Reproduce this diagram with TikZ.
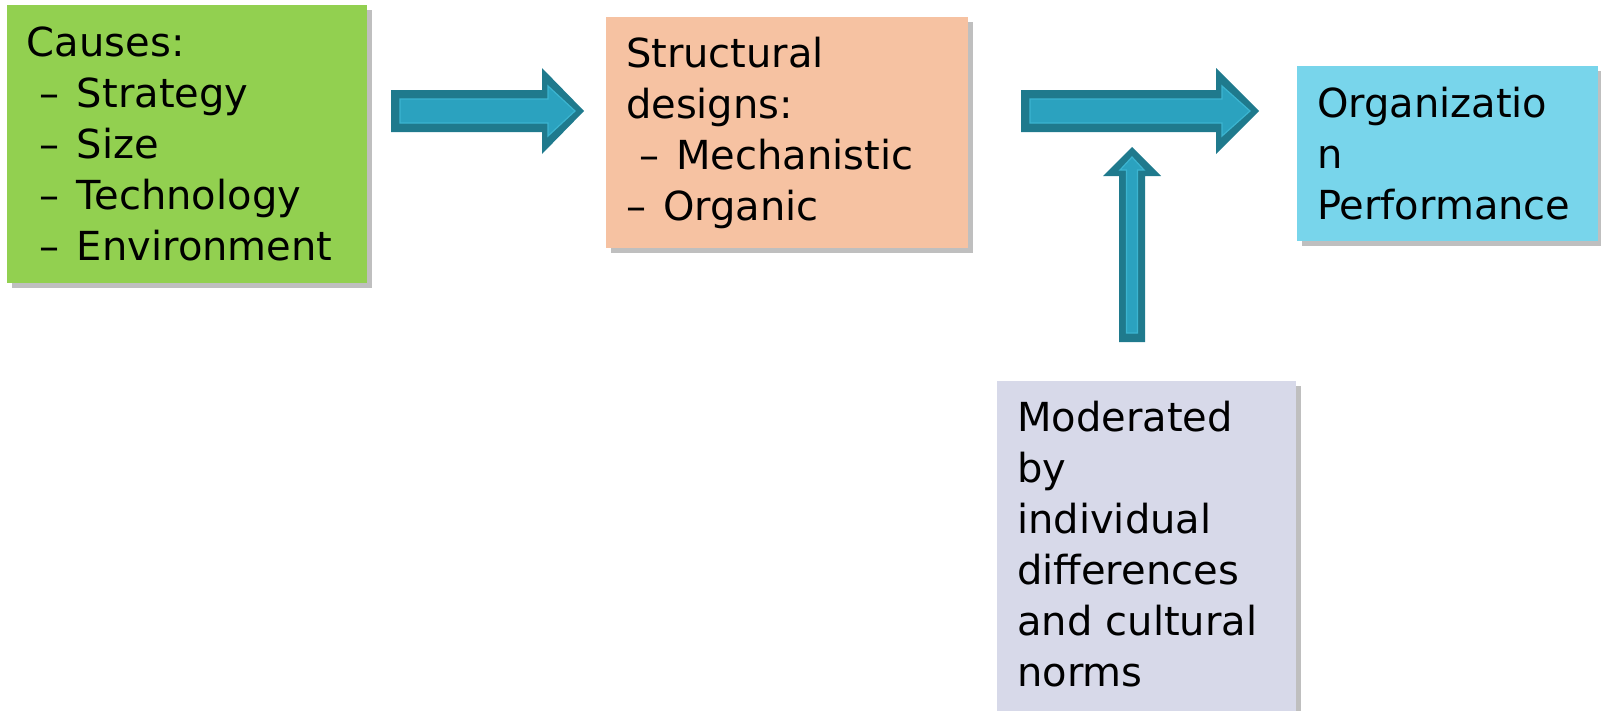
\documentclass[tikz,border=0pt]{standalone}
\usepackage{fontspec}
\setmainfont{DejaVu Sans}
\usetikzlibrary{calc, shadows}
\definecolor{causeGreen}{HTML}{92D050}
\definecolor{designPeach}{HTML}{F6C2A2}
\definecolor{perfCyan}{HTML}{78D5EB}
\definecolor{moderLilac}{HTML}{D7D9E9}
\definecolor{arrowDark}{HTML}{1F7A8D}
\definecolor{arrowLight}{HTML}{2BA2BF}
\definecolor{arrowEdge}{HTML}{3BB4D0}
\tikzset{
  box/.style = {rectangle, inner xsep=20pt, inner ysep=20pt, align=left,
    font=\fontsize{40}{51}\selectfont,
    drop shadow={shadow xshift=5pt, shadow yshift=-5pt, fill=black, opacity=0.25}},
  causeBox/.style = {box, fill=causeGreen, text width=320pt, minimum height=278pt},
  designBox/.style = {box, fill=designPeach, text width=322pt, minimum height=229pt},
  perfBox/.style = {box, fill=perfCyan, text width=261pt, minimum height=175pt},
  moderBox/.style = {box, fill=moderLilac, text width=259pt},
  arrowOuter/.style = {fill=arrowDark},
  arrowInner/.style = {fill=arrowLight, draw=arrowEdge, line width=1.2pt},
}
\newcommand{\dashItem}[1]{–\hspace{17pt}#1}
% start, end, half shaft, half head, head length, style
\newcommand{\blockArrow}[6]{%
  \coordinate (ba-h) at ($(#2)!#5!(#1)$);
  \path[#6] ($(#1)!#3!90:(#2)$) -- ($(ba-h)!#3!90:(#2)$) -- ($(ba-h)!#4!90:(#2)$)
    -- (#2) -- ($(ba-h)!#4!-90:(#2)$) -- ($(ba-h)!#3!-90:(#2)$)
    -- ($(#1)!#3!-90:(#2)$) -- cycle;
}

\begin{document}
\begin{tikzpicture}[x=1pt, y=-1pt]
\useasboundingbox (0,0) rectangle (1601,710);

\node[causeBox] (causes) at (187,144) {Causes:\\
  \hspace*{13pt}\dashItem{Strategy}\\ \hspace*{13pt}\dashItem{Size}\\
  \hspace*{13pt}\dashItem{Technology}\\ \hspace*{13pt}\dashItem{Environment}};
\node[designBox] (designs) at (787,132.5) {Structural\\ designs:\\
  \hspace*{13pt}\dashItem{Mechanistic}\\ \dashItem{Organic}};
\node[perfBox] (perf) at (1447.5,153.5) {Organizatio\\ n\\ Performance};
\node[moderBox, anchor=north west] (moder) at (997,381) {Moderated\\ by\\
  individual\\ differences\\ and cultural\\ norms\\[30pt]\mbox{}};

\coordinate (a1s) at (391,111);
\coordinate (a1e) at (584,111);
\coordinate (a1is) at (400,111);
\coordinate (a1ie) at (575,111);
\coordinate (a2s) at (1021,111);
\coordinate (a2e) at (1259,111);
\coordinate (a2is) at (1030,111);
\coordinate (a2ie) at (1250,111);
\coordinate (a3s) at (1132,342);
\coordinate (a3e) at (1132,147);
\coordinate (a3is) at (1132,333);
\coordinate (a3ie) at (1132,157);

\blockArrow{a1s}{a1e}{21pt}{43pt}{42pt}{arrowOuter}
\blockArrow{a1is}{a1ie}{12pt}{25pt}{27pt}{arrowInner}
\blockArrow{a2s}{a2e}{21pt}{43pt}{43pt}{arrowOuter}
\blockArrow{a2is}{a2ie}{12pt}{25pt}{28pt}{arrowInner}
\blockArrow{a3s}{a3e}{13pt}{29pt}{29pt}{arrowOuter}
\blockArrow{a3is}{a3ie}{5.5pt}{12pt}{13pt}{arrowInner}

\end{tikzpicture}
\end{document}
